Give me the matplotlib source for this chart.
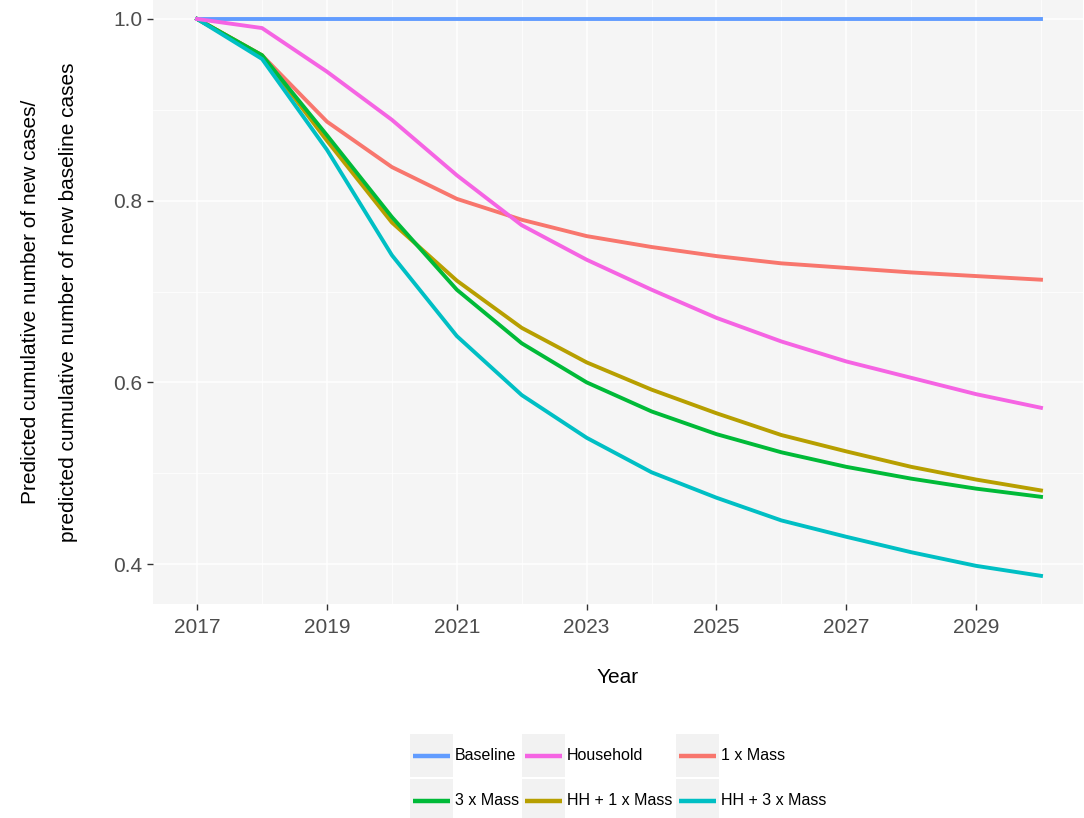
import matplotlib
matplotlib.use("Agg")
import matplotlib.pyplot as plt
from matplotlib.patches import Rectangle
from matplotlib.lines import Line2D
from matplotlib.legend_handler import HandlerBase

plt.rcParams['font.family'] = ['Liberation Sans', 'DejaVu Sans']

years = list(range(2017, 2031))
one_x_mass = [1.0, 0.960, 0.887, 0.837, 0.802, 0.779, 0.761, 0.749, 0.739, 0.731, 0.726, 0.721, 0.717, 0.713]
hh_one_x_mass = [1.0, 0.960, 0.866, 0.776, 0.712, 0.660, 0.622, 0.592, 0.566, 0.542, 0.524, 0.507, 0.493, 0.481]
three_x_mass = [1.0, 0.960, 0.872, 0.782, 0.702, 0.643, 0.600, 0.568, 0.543, 0.523, 0.507, 0.494, 0.483, 0.474]
hh_three_x_mass = [1.0, 0.956, 0.856, 0.740, 0.651, 0.586, 0.539, 0.501, 0.473, 0.448, 0.430, 0.413, 0.398, 0.387]
baseline = [1.0] * 14
household = [1.0, 0.990, 0.942, 0.889, 0.828, 0.773, 0.735, 0.702, 0.671, 0.645, 0.623, 0.605, 0.587, 0.572]

series = [
    ("1 x Mass", one_x_mass, "#F8766D"),
    ("HH + 1 x Mass", hh_one_x_mass, "#B79F00"),
    ("3 x Mass", three_x_mass, "#00BA38"),
    ("HH + 3 x Mass", hh_three_x_mass, "#00BFC4"),
    ("Baseline", baseline, "#619CFF"),
    ("Household", household, "#F564E3"),
]
legend_order = ["Baseline", "Household", "1 x Mass", "3 x Mass", "HH + 1 x Mass", "HH + 3 x Mass"]

W, H = 1084, 818
fig = plt.figure(figsize=(W / 100, H / 100), dpi=100)
ax = fig.add_axes([153 / W, 1 - 604 / H, (1083 - 153) / W, 604 / H])
ax.set_facecolor("#F5F5F5")

handles = {}
for name, vals, col in series:
    ln, = ax.plot(years, vals, color=col, lw=2.8, label=name, solid_joinstyle='round')
    handles[name] = ln

ax.set_xlim(2016.32, 2030.647)
ax.set_ylim(0.356, 1.0209)
ax.set_xticks(range(2017, 2030, 2))
ax.set_xticks(range(2018, 2031, 2), minor=True)
ax.set_yticks([0.4, 0.6, 0.8, 1.0])
ax.set_yticks([0.5, 0.7, 0.9], minor=True)
ax.set_yticklabels(["0.4", "0.6", "0.8", "1.0"])
ax.grid(which='major', color='white', lw=1.1)
ax.grid(which='minor', color='white', lw=0.55)
ax.set_axisbelow(True)
for s in ax.spines.values():
    s.set_visible(False)
ax.tick_params(which='major', length=4.5, width=1.0, color='#333333', labelsize=15,
               labelcolor='#4D4D4D')
ax.tick_params(axis='x', which='major', pad=5.5)
ax.tick_params(axis='y', which='major', pad=3)
ax.tick_params(which='minor', length=0)

ax.set_xlabel("Year", fontsize=15, labelpad=22.7)
ax.set_ylabel("Predicted cumulative number of new cases/\npredicted cumulative number of new baseline cases",
              fontsize=15, labelpad=25.5, linespacing=2.24)


class KeyHandler(HandlerBase):
    def create_artists(self, legend, orig_handle, xdescent, ydescent, width, height, fontsize, trans):
        rect = Rectangle((-xdescent, -ydescent), width, height, facecolor='#F2F2F2',
                         edgecolor='none', transform=trans)
        pad = 0.07 * width
        y = -ydescent + height / 2
        line = Line2D([-xdescent + pad, -xdescent + width - pad], [y, y],
                      color=orig_handle.get_color(), lw=3.2, solid_capstyle='butt', transform=trans)
        return [rect, line]


# matplotlib fills legend columns first; arrange so rows read as in legend_order
ncol = 3
nrow = 2
ordered = []
for c in range(ncol):
    for r in range(nrow):
        ordered.append(legend_order[r * ncol + c])
leg = fig.legend([handles[n] for n in ordered], ordered, loc='upper center',
                 bbox_to_anchor=(618 / W, 1 - 734 / H), ncol=3, frameon=False,
                 fontsize=11.5, handlelength=2.69, handleheight=3.8, labelspacing=0.1,
                 handletextpad=0.12, columnspacing=0.2, borderpad=0, borderaxespad=0,
                 handler_map={Line2D: KeyHandler()})

fig.savefig("out.png", dpi=100)
